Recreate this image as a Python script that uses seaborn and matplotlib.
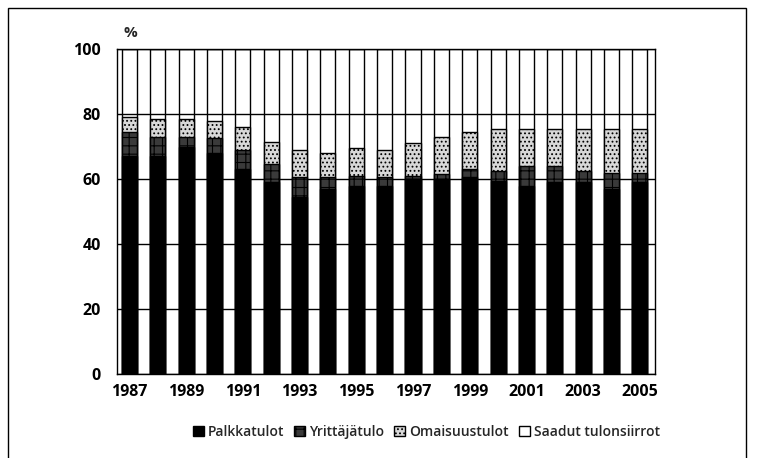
import pandas as pd
import matplotlib.pyplot as plt
import matplotlib.patches as mpatches
import seaborn as sns

# Tulorakenne vuosittain, %
years = list(range(1987, 2006))
palkkatulot = [67, 67, 70, 68, 63, 59, 54.5, 57, 58, 58, 60, 60, 60.5, 59.5, 58, 59, 59, 57, 59]
yrittajatulo = [7.5, 6, 3, 4.5, 6, 5.5, 6, 3.5, 3, 2.5, 1, 1.5, 2.5, 3, 6, 5, 3.5, 5, 3]
omaisuustulot = [4.5, 5.5, 5.5, 5.5, 7, 7, 8.5, 7.5, 8.5, 8.5, 10, 11.5, 11.5, 13, 11.5, 11.5, 13, 13.5, 13.5]
tick_years = [str(y) for y in range(1987, 2006, 2)]

df = pd.DataFrame({
    'vuosi': [str(y) for y in years],
    'palkka': palkkatulot,
    'yritt': yrittajatulo,
    'omai': omaisuustulot,
})
df['c1'] = df['palkka']
df['c2'] = df['c1'] + df['yritt']
df['c3'] = df['c2'] + df['omai']
df['c4'] = 100

sns.set_style("white")
plt.rcParams['font.family'] = ['Open Sans', 'DejaVu Sans']
plt.rcParams['hatch.linewidth'] = 0.8

fig = plt.figure(figsize=(7.57, 4.58), dpi=100)
ax = fig.add_axes([0.155, 0.183, 0.71, 0.71])

order = df['vuosi'].tolist()
w = 0.53
n = len(order)
# cumulative layers drawn from top down
sns.barplot(data=df, x='vuosi', y='c4', order=order, color='white', width=w,
            edgecolor='black', linewidth=1.0, ax=ax, zorder=2)
for p in ax.patches[:n]:
    p.set_facecolor('none')
sns.barplot(data=df, x='vuosi', y='c3', order=order, color='#d8d8d8', width=w,
            edgecolor='black', linewidth=1.0, ax=ax, zorder=3)
for p in ax.patches[n:2 * n]:
    p.set_hatch('....')
sns.barplot(data=df, x='vuosi', y='c2', order=order, color='#3a3a3a', width=w,
            edgecolor='black', linewidth=1.0, ax=ax, zorder=4)
for p in ax.patches[2 * n:3 * n]:
    p.set_hatch('++')
sns.barplot(data=df, x='vuosi', y='c1', order=order, color='black', width=w,
            edgecolor='black', linewidth=1.0, ax=ax, zorder=5)

ax.set_ylim(0, 100)
ax.set_xlim(-0.43, 18.53)
ax.set_yticks([0, 20, 40, 60, 80, 100])
ax.yaxis.grid(True, color='black', linewidth=1.0, zorder=1)
ax.set_axisbelow(True)
ax.set_xticks(range(n))
ax.set_xticklabels([v if v in tick_years else '' for v in order])
ax.tick_params(axis='both', labelsize=11.5, length=3, width=1, direction='out',
               colors='black')
ax.tick_params(axis='y', pad=9)
ax.tick_params(axis='x', length=2, pad=5)
for lab in ax.get_xticklabels() + ax.get_yticklabels():
    lab.set_fontweight('bold')
ax.set_xlabel('')
ax.set_ylabel('')
for s in ax.spines.values():
    s.set_color('black')
    s.set_linewidth(1.0)
    s.set_visible(True)

fig.text(0.163, 0.928, '%', fontsize=11, fontweight='bold', ha='left', va='center')

handles = [
    mpatches.Patch(facecolor='black', edgecolor='black', label='Palkkatulot'),
    mpatches.Patch(facecolor='#3a3a3a', edgecolor='black', hatch='++', label='Yrittäjätulo'),
    mpatches.Patch(facecolor='#d8d8d8', edgecolor='black', hatch='....', label='Omaisuustulot'),
    mpatches.Patch(facecolor='white', edgecolor='black', label='Saadut tulonsiirrot'),
]
leg = fig.legend(handles=handles, loc='center', bbox_to_anchor=(0.563, 0.057), ncol=4,
                 frameon=False, prop={'size': 10, 'weight': 'semibold'},
                 handlelength=0.8, handleheight=0.8,
                 handletextpad=0.3, columnspacing=0.7)

# frame around whole figure
fig.patches.append(mpatches.Rectangle((0.011, -0.02), 0.974, 1.002, transform=fig.transFigure,
                                      fill=False, edgecolor='black', linewidth=1.0))

fig.savefig('out.png', dpi=100)
